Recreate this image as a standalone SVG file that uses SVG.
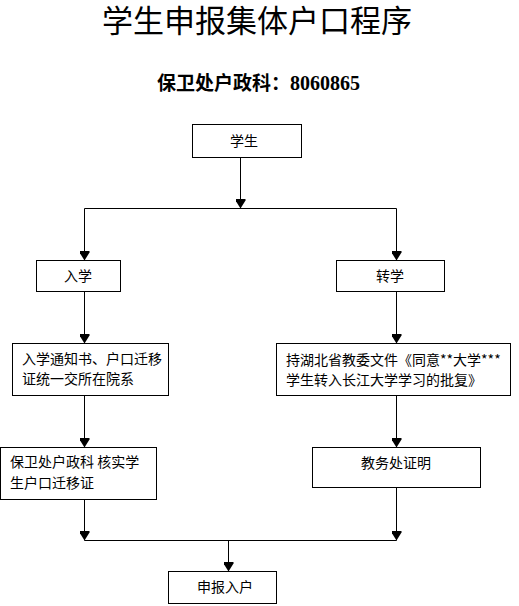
<svg xmlns="http://www.w3.org/2000/svg" width="519" height="606" viewBox="0 0 519 606">
<style>
.box{fill:#fff;stroke:#000;stroke-width:1}
.ln{fill:none;stroke:#000;stroke-width:1}
.t{font-family:"Noto Sans CJK SC","Noto Sans",sans-serif;font-size:14px;fill:#000}
.c{text-anchor:middle}
</style>
<defs>
<marker id="ah" viewBox="0 -5 10 10" refX="10" refY="0" markerWidth="10" markerHeight="10" markerUnits="userSpaceOnUse" orient="auto">
<path d="M0,-5 L2,-5 L10,0 L2,5 L0,5 Z" fill="#000"/>
</marker>
</defs>
<rect width="519" height="606" fill="#fff"/>
<text x="257" y="32" font-family="'Noto Sans CJK SC',sans-serif" font-size="31" text-anchor="middle">学生申报集体户口程序</text>
<text x="157" y="90" font-family="'Noto Sans CJK SC',sans-serif" font-size="19" font-weight="bold">保卫处户政科：<tspan font-family="'Liberation Serif',serif" font-size="20">8060865</tspan></text>

<g id="connectors">
<path class="ln" d="M240.5,157.5 V208.5" marker-end="url(#ah)"/>
<path class="ln" d="M84.5,208.5 H396.5"/>
<path class="ln" d="M84.5,208.5 V260.5" marker-end="url(#ah)"/>
<path class="ln" d="M396.5,208.5 V260.5" marker-end="url(#ah)"/>
<path class="ln" d="M84.5,291.5 V343.5" marker-end="url(#ah)"/>
<path class="ln" d="M84.5,395.5 V447.5" marker-end="url(#ah)"/>
<path class="ln" d="M84.5,499.5 V540.5" marker-end="url(#ah)"/>
<path class="ln" d="M396.5,291.5 V343.5" marker-end="url(#ah)"/>
<path class="ln" d="M396.5,395.5 V447.5" marker-end="url(#ah)"/>
<path class="ln" d="M396.5,487.5 V540.5" marker-end="url(#ah)"/>
<path class="ln" d="M84.5,540.5 H396.5"/>
<path class="ln" d="M228.5,540.5 V571.5" marker-end="url(#ah)"/>
</g>

<g id="student">
<rect class="box" x="192.5" y="124.5" width="109" height="33"/>
<text class="t c" x="244" y="146">学生</text>
</g>
<g id="enroll">
<rect class="box" x="36.5" y="260.5" width="84" height="31"/>
<text class="t c" x="78" y="281">入学</text>
</g>
<g id="transfer">
<rect class="box" x="336.5" y="260.5" width="108" height="31"/>
<text class="t c" x="390" y="281">转学</text>
</g>
<g id="enroll-docs">
<rect class="box" x="12.5" y="343.5" width="156" height="52"/>
<text class="t" x="22" y="364">入学通知书、户口迁移</text>
<text class="t" x="22" y="384">证统一交所在院系</text>
</g>
<g id="security-check">
<rect class="box" x="0.5" y="447.5" width="156" height="52"/>
<text class="t" x="10" y="467">保卫处户政科 核实学</text>
<text class="t" x="10" y="488">生户口迁移证</text>
</g>
<g id="transfer-docs">
<rect class="box" x="276.5" y="343.5" width="234" height="52"/>
<text class="t" x="286" y="365">持湖北省教委文件《同意**大学***</text>
<text class="t" x="286" y="385">学生转入长江大学学习的批复》</text>
</g>
<g id="academic-cert">
<rect class="box" x="312.5" y="447.5" width="168" height="40"/>
<text class="t c" x="396" y="468">教务处证明</text>
</g>
<g id="apply">
<rect class="box" x="168.5" y="571.5" width="108" height="32"/>
<text class="t c" x="225" y="592">申报入户</text>
</g>
</svg>
